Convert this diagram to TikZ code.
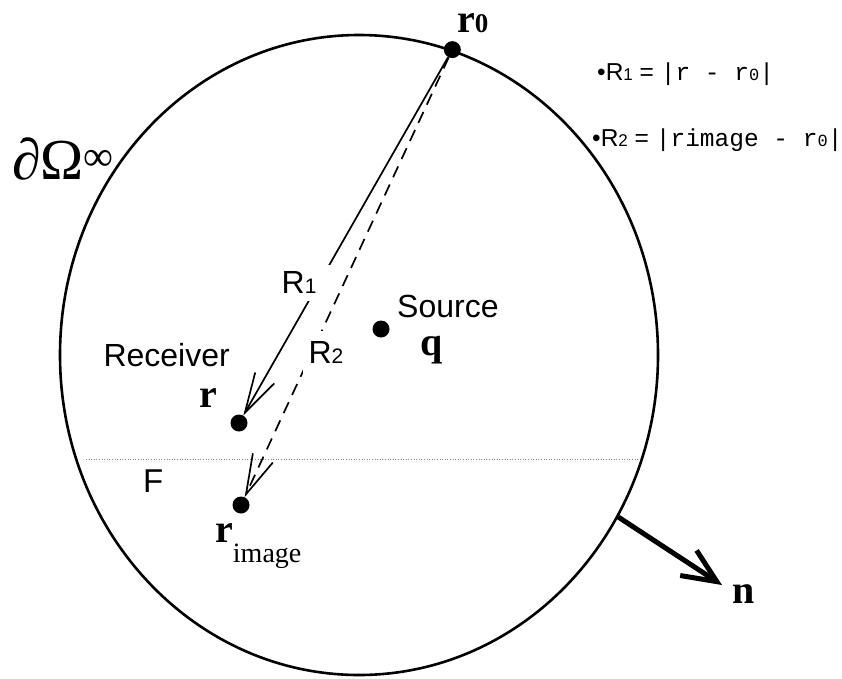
\documentclass[tikz,border=0pt]{standalone}
\usepackage{fontspec}
\setmainfont{Liberation Serif}
\setsansfont{Liberation Sans}
\setmonofont{Liberation Mono}
\usepackage{tikz}
\usetikzlibrary{arrows.meta,positioning,calc,shapes.geometric}
\newcommand{\dg}[1]{{\fontsize{21}{22}\selectfont #1}}
\newcommand{\edg}[1]{{\fontsize{17}{18}\selectfont #1}}
\tikzset{
  dot/.style={circle,fill=black,inner sep=0pt,minimum size=17pt},
  bnd/.style={ellipse,draw,line width=2.6pt,minimum width=598pt,minimum height=640pt,inner sep=0pt},
  lab/.style={font=\fontsize{32}{36}\selectfont\sffamily,inner sep=0pt},
  vec/.style={font=\fontsize{40}{44}\selectfont\bfseries,inner sep=0pt},
  eqn/.style={font=\fontsize{24.5}{28}\selectfont\sffamily,inner sep=0pt,anchor=base west},
  ray/.style={-{Straight Barb[length=40pt,width=22pt]},line width=1.7pt},
  iray/.style={ray,dash pattern=on 12pt off 8pt},
  nrm/.style={-{Straight Barb[length=34pt,width=30pt]},line width=5pt},
  cut/.style={line width=0.6pt,gray,dotted},
}

\begin{document}
\begin{tikzpicture}[x=1pt,y=-1pt]
\useasboundingbox (0,0) rectangle (842,678);
% boundary at infinity
\node[bnd] (bd) at (359,355) {};
\node[anchor=base west,inner sep=0pt,font=\fontsize{58}{60}\selectfont] (om) at (12,179)
  {∂Ω\raisebox{9pt}{\fontsize{42}{44}\selectfont ∞}};
% points
\node[dot] (r0) at (bd.73) {};
\node[dot] (q) at (381,329) {};
\node[dot] (r) at (239,423) {};
\node[dot] (ri) at (241,505) {};
\node[vec,anchor=base west] (r0l) at (457,32) {r{\fontsize{27}{30}\selectfont 0}};
\node[lab,anchor=base west] (src) at (397,317) {Source};
\node[vec,anchor=base] (ql) at (432,355) {q};
\node[lab,anchor=base east] (rcv) at (230,366) {Receiver};
\node[vec,anchor=base] (rl) at (208,407) {r};
\node[vec,anchor=base west] (ril) at (215,542)
  {r\raisebox{-20pt}{\fontsize{28}{30}\selectfont\mdseries image}};
% free surface
\coordinate (fl) at (86,459);
\coordinate (fr) at (638,459);
\draw[cut] (fl) -- (fr);
\node[lab,anchor=base west,font=\fontsize{33}{36}\selectfont\sffamily] (F) at (143,492) {F};
% rays
\draw[ray] (r0) -- node[lab,fill=white,pos=0.63,xshift=-20pt,inner xsep=18pt,inner ysep=7pt] {R\dg{1}} (r);
\draw[iray] (r0) -- node[lab,fill=white,pos=0.67,xshift=14pt,inner xsep=6pt,inner ysep=10pt] {R\dg{2}} (ri);
% normal
\coordinate (nt) at (722,585);
\draw[nrm] (bd.-32) -- (nt);
\node[vec,anchor=base] (nl) at (744,603) {n};
% definitions
\node[eqn] (e1) at (597,80) {•R\edg{1} = \texttt{|r - r\edg{0}|}};
\node[eqn] (e2) at (592,146) {•R\edg{2} = \texttt{|rimage - r\edg{0}|}};
\end{tikzpicture}
\end{document}
